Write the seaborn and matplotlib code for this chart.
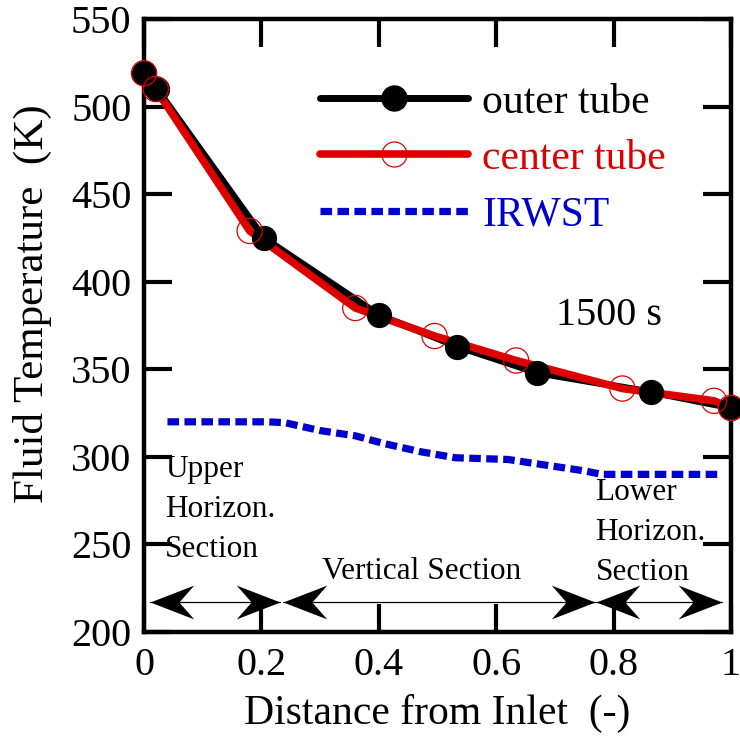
import matplotlib
matplotlib.use("Agg")
import matplotlib.pyplot as plt
import seaborn as sns
from matplotlib.lines import Line2D
from matplotlib.path import Path

# ---- data ----
outer_x = [0.0, 0.022, 0.204, 0.40, 0.534, 0.67, 0.864, 1.0]
outer_T = [519, 510, 425, 381, 363, 348, 337, 328]

center_x = [0.0, 0.02, 0.18, 0.36, 0.495, 0.634, 0.815, 0.971, 1.0]
center_T = [519, 510, 429, 385, 369, 355, 339, 332, 328]

irwst_x = [0.04, 0.21, 0.24, 0.30, 0.36, 0.41, 0.47, 0.53, 0.62, 0.69, 0.75, 0.78, 0.98]
irwst_T = [320, 320, 319.5, 315, 312, 307.5, 303, 299.5, 298.5, 295, 292, 290, 290]

section_left = [0.01, 0.237, 0.770]
section_right = [0.232, 0.768, 0.984]
arrow_T = 217

xticks = [0, 0.2, 0.4, 0.6, 0.8, 1]
xtick_labels = ["0", "0.2", "0.4", "0.6", "0.8", "1"]
yticks = [200, 250, 300, 350, 400, 450, 500, 550]

# ---- style ----
sns.set_theme(style="white")
plt.rcParams["font.family"] = ["Liberation Serif", "DejaVu Serif"]
for k in ["text.color", "axes.labelcolor", "xtick.color", "ytick.color"]:
    plt.rcParams[k] = "black"

fig = plt.figure(figsize=(7.4, 7.45), dpi=100)
ax = fig.add_axes([0.1946, 0.1517, 0.7932, 0.8228])

# lines
sns.lineplot(x=outer_x, y=outer_T, color="black", lw=5, sort=False, ax=ax,
             solid_capstyle="butt", zorder=2, clip_on=False)
sns.lineplot(x=center_x, y=center_T, color="#dd0000", lw=5.5, sort=False, ax=ax,
             solid_capstyle="butt", zorder=3, clip_on=False)
sns.lineplot(x=irwst_x, y=irwst_T, color="#0000cc", lw=5.2, sort=False, ax=ax,
             linestyle=(0, (1.6, 0.75)), dash_capstyle="butt", zorder=2)

# markers
sns.scatterplot(x=outer_x, y=outer_T, color="black", s=330, edgecolor="black",
                linewidth=0, ax=ax, zorder=4, clip_on=False)
sns.scatterplot(x=center_x, y=center_T, facecolor="none", s=330, edgecolor="#e00000",
                linewidth=0.9, ax=ax, zorder=5, clip_on=False)

# section arrows: thin shafts + swept arrowheads
for x0, x1 in zip(section_left, section_right):
    sns.lineplot(x=[x0, x1], y=[arrow_T, arrow_T], color="black", lw=0.9, ax=ax,
                 zorder=6)
codes = [Path.MOVETO, Path.LINETO, Path.LINETO, Path.LINETO, Path.CLOSEPOLY]
head_right = Path([(0, 0), (-44, 17), (-29, 0), (-44, -17), (0, 0)], codes)
head_left = Path([(0, 0), (44, 17), (29, 0), (44, -17), (0, 0)], codes)
head_s = 63 ** 2
sns.scatterplot(x=section_left, y=[arrow_T] * len(section_left), marker=head_left,
                s=head_s, color="black", linewidth=0, ax=ax, zorder=7)
sns.scatterplot(x=section_right, y=[arrow_T] * len(section_right), marker=head_right,
                s=head_s, color="black", linewidth=0, ax=ax, zorder=7)

ax.text(0.036, 301, "Upper\nHorizon.\nSection", fontsize=22.5, ha="left", va="top",
        linespacing=1.5)
ax.text(0.473, 234.5, "Vertical Section", fontsize=22.5, ha="center", va="center")
ax.text(0.769, 288, "Lower\nHorizon.\nSection", fontsize=22.5, ha="left", va="top",
        linespacing=1.5)
ax.text(0.792, 380.5, "1500 s", fontsize=29, ha="center", va="center")

# legend
handles = [
    Line2D([], [], color="black", lw=5, marker="o", markersize=18,
           markerfacecolor="black", markeredgecolor="black"),
    Line2D([], [], color="#dd0000", lw=5.5, marker="o", markersize=18,
           markerfacecolor="none", markeredgecolor="#e00000", markeredgewidth=0.9),
    Line2D([], [], color="#0000cc", lw=5.2, linestyle=(0, (1.6, 0.75)),
           dash_capstyle="butt"),
]
leg = ax.legend(handles, ["outer tube", "center tube", "IRWST"], loc="upper left",
                bbox_to_anchor=(0.285, 0.909), frameon=False, fontsize=30,
                handlelength=3.55, handletextpad=0.35, labelspacing=0.43,
                borderaxespad=0, borderpad=0.2)
for t, c in zip(leg.get_texts(), ["black", "#dd0000", "#0000cc"]):
    t.set_color(c)

# axes
ax.set_xlim(0, 1)
ax.set_ylim(200, 550)
ax.set_xticks(xticks)
ax.set_xticklabels(xtick_labels)
ax.set_yticks(yticks)
ax.tick_params(direction="in", length=20, width=3, labelsize=29, pad=9,
               top=True, right=True, bottom=True, left=True, color="black")
ax.tick_params(axis="x", pad=11)
for sp in ax.spines.values():
    sp.set_linewidth(3.2)
    sp.set_color("black")
ax.set_xlabel("Distance from Inlet  (-)", fontsize=30, labelpad=7)
ax.set_ylabel("Fluid Temperature  (K)", fontsize=31)
ax.yaxis.set_label_coords(-0.157, 0.535)
ax.set_facecolor("white")
fig.patch.set_facecolor("white")

fig.savefig("out.png", dpi=100, facecolor="white")
